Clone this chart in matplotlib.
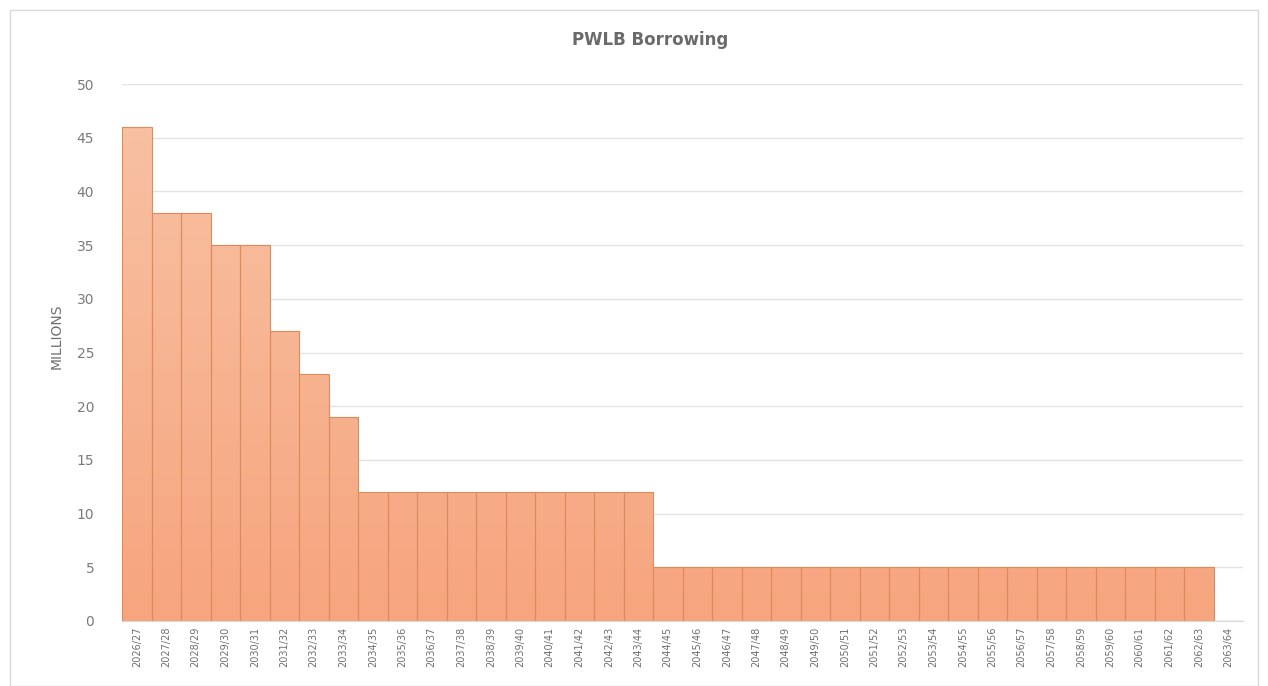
import matplotlib
matplotlib.use("Agg")
import matplotlib.pyplot as plt
import numpy as np
from matplotlib.patches import Rectangle
from matplotlib.colors import LinearSegmentedColormap

categories = [f"{y}/{(y+1) % 100:02d}" for y in range(2026, 2064)]
values = [46, 38, 38, 35, 35, 27, 23, 19] + [12] * 10 + [5] * 19 + [0]

fig = plt.figure(figsize=(12.68, 6.86), dpi=100)
fig.patches.append(Rectangle((10/1268, 0), 1248/1268, 1 - 10/686, transform=fig.transFigure,
                             fill=False, edgecolor="#d9d9d9", linewidth=1))
ax = fig.add_axes([122/1268, 1 - 621/686, (1243-122)/1268, (621-84)/686])

x = np.arange(len(categories))
bars = ax.bar(x, values, width=1.0, color="none", edgecolor="#e08a5a", linewidth=0.8, zorder=3)

# gradient fill
grad = np.linspace(0, 1, 256).reshape(-1, 1)
cmap = LinearSegmentedColormap.from_list("peach", ["#f6a57e", "#f8c3a5"])
for b in bars:
    h = b.get_height()
    if h <= 0:
        continue
    im = ax.imshow(grad, extent=[b.get_x(), b.get_x() + b.get_width(), 0, 50], origin="lower",
                   aspect="auto", cmap=cmap, zorder=2)
    im.set_clip_path(Rectangle((b.get_x(), 0), b.get_width(), h, transform=ax.transData))

ax.set_xlim(-0.5, len(categories) - 0.5)
ax.set_ylim(0, 50)
ax.set_yticks(range(0, 51, 5))
ax.set_xticks(x)
ax.set_xticklabels(categories, rotation=90, fontsize=7, color="#6f6f6f")
ax.tick_params(axis="y", labelsize=10, colors="#7a7a7a", length=0, pad=20)
ax.tick_params(axis="x", length=0, pad=4)
ax.grid(axis="y", color="#e3e3e3", linewidth=1, zorder=0)
for s in ax.spines.values():
    s.set_visible(False)
ax.spines["bottom"].set_visible(True)
ax.spines["bottom"].set_color("#d9d9d9")
ax.set_ylabel("MILLIONS", fontsize=10, color="#6f6f6f", labelpad=8)
ax.yaxis.set_label_coords(-58/1121 - 0.0, 0.53)
fig.text(650/1268, 1 - 40/686, "PWLB Borrowing", ha="center", va="center",
         fontsize=12, fontweight="bold", color="#6a6a6a")

fig.savefig("out.png", dpi=100)
